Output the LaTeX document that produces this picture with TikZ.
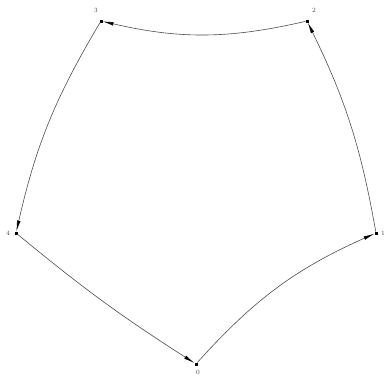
\documentclass[tikz,border=0pt]{standalone}
\usetikzlibrary{arrows.meta}
\begin{document}
\begin{tikzpicture}[x=1pt,y=-1pt,
  vert/.style={draw=black,fill=black,rectangle,inner sep=0pt,minimum size=2.6pt},
  lab/.style={inner sep=0pt,font=\fontsize{6.5}{6.5}\selectfont,text=black!75},
  edge/.style={draw=black!70,line width=0.6pt,-{Latex[length=11pt,width=3.6pt,black]}}]
\useasboundingbox (0,0) rectangle (386,376);
\node[vert] (n0) at (196,364) {};
\node[vert] (n1) at (376,233) {};
\node[vert] (n2) at (307,21) {};
\node[vert] (n3) at (101,21) {};
\node[vert] (n4) at (16,233) {};
\node[lab] (l0) at (198,372) {0};
\node[lab] (l1) at (383,233) {1};
\node[lab] (l2) at (314,10) {2};
\node[lab] (l3) at (96,10) {3};
\node[lab] (l4) at (8,233) {4};
\draw[edge] (n0) to[bend left=12] (n1);
\draw[edge] (n1) to[bend right=8] (n2);
\draw[edge] (n2) to[bend left=13] (n3);
\draw[edge] (n3) to[bend right=9] (n4);
\draw[edge] (n4) to[bend right=3.5] (n0);
\end{tikzpicture}
\end{document}
